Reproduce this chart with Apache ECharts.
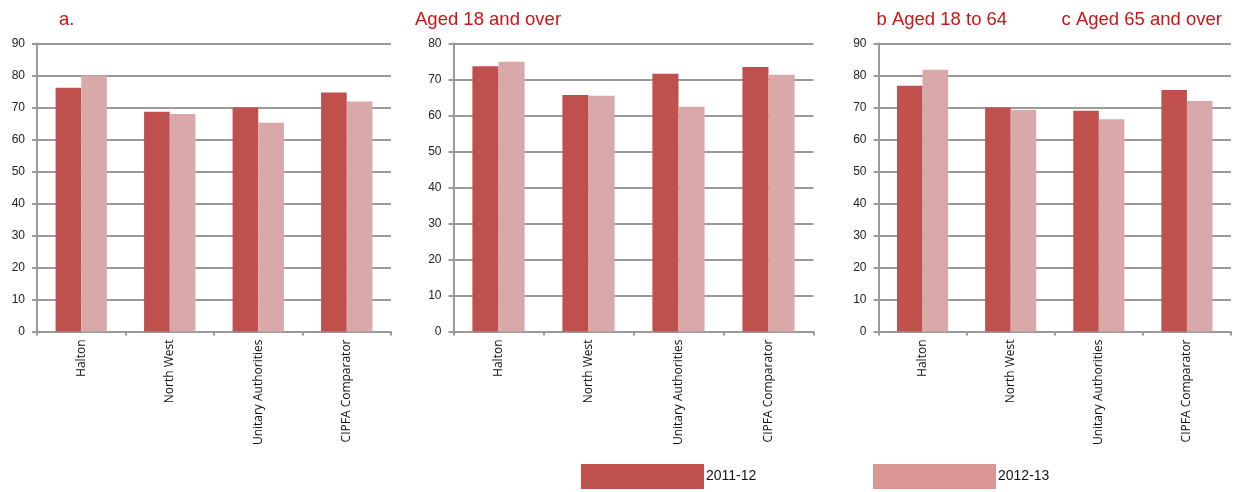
<!DOCTYPE html>
<html>
<head>
<meta charset="utf-8">
<script src="https://cdn.jsdelivr.net/npm/echarts@6/dist/echarts.min.js"></script>
<style>
html,body{margin:0;padding:0;background:#fff;}
#chart{width:1239px;height:492px;}
</style>
</head>
<body>
<div id="chart"></div>
<script>
const categories = ['Halton', 'North West', 'Unitary Authorities', 'CIPFA Comparator'];
const seriesNames = ['2011-12', '2012-13'];
const titles = ['a.', 'Aged 18 and over', 'b Aged 18 to 64', 'c Aged 65 and over'];
// panel a
const a2011 = [76.2, 68.7, 70.0, 74.7];
const a2012 = [80.0, 68.0, 65.2, 71.9];
// panel b (Aged 18 and over)
const b2011 = [73.7, 65.7, 71.6, 73.5];
const b2012 = [74.9, 65.5, 62.4, 71.3];
// panel c
const c2011 = [76.8, 70.0, 69.0, 75.5];
const c2012 = [81.8, 69.2, 66.3, 72.0];
const yMax = [90, 80, 90];

const darkColor = '#c0504d';
const lightColor = '#d9a9a9';
const legendLight = '#d99694';
const gridColor = '#9a9a9a';
const titleColor = '#cc1414';

const grids = [
  {left: 37, width: 354, top: 43.5, height: 288},
  {left: 453.5, width: 360, top: 43.5, height: 288},
  {left: 878.5, width: 352.5, top: 43.5, height: 288}
];
const panels = [[a2011, a2012], [b2011, b2012], [c2011, c2012]];

const xAxes = grids.map((g, i) => ({
  type: 'category', gridIndex: i, data: categories,
  axisLine: {lineStyle: {color: gridColor, width: 2}},
  axisTick: {show: true, length: 4, lineStyle: {color: gridColor, width: 2}},
  axisLabel: {rotate: 90, margin: 8, fontFamily: 'Open Sans', fontSize: 12, color: '#111'}
}));
const yAxes = grids.map((g, i) => ({
  type: 'value', gridIndex: i, min: 0, max: yMax[i], interval: 10,
  axisLine: {show: true, lineStyle: {color: gridColor, width: 2}},
  axisTick: {show: true, length: 5, lineStyle: {color: gridColor, width: 2}},
  splitLine: {show: true, lineStyle: {color: gridColor, width: 2}},
  axisLabel: {margin: 12, fontFamily: 'Liberation Sans', fontSize: 12, color: '#222'}
}));
const series = [];
panels.forEach((p, i) => {
  series.push({name: seriesNames[0], type: 'bar', xAxisIndex: i, yAxisIndex: i, data: p[0],
    barGap: '0%', barCategoryGap: '42%', itemStyle: {color: darkColor}});
  series.push({name: seriesNames[1], type: 'bar', xAxisIndex: i, yAxisIndex: i, data: p[1],
    barGap: '0%', barCategoryGap: '42%', itemStyle: {color: lightColor}});
});

const titleStyle = {fontFamily: 'Liberation Sans', fontSize: 18.5, fontWeight: 'normal', color: titleColor};
const titlePos = [59, 415, 876.5, 1061.5];
const title = titles.map((t, i) => ({text: t, left: titlePos[i], top: 10.5, padding: 0, textStyle: titleStyle}));

const legendText = {fontFamily: 'Liberation Sans', fontSize: 14, color: '#111'};
const legend = [
  {data: [{name: seriesNames[0], itemStyle: {color: darkColor}}], left: 581, top: 464, padding: 0,
    icon: 'rect', itemWidth: 123, itemHeight: 25, selectedMode: false,
    textStyle: Object.assign({padding: [6, 0, 0, -3]}, legendText)},
  {data: [{name: seriesNames[1], itemStyle: {color: legendLight}}], left: 873, top: 464, padding: 0,
    icon: 'rect', itemWidth: 123, itemHeight: 25, selectedMode: false,
    textStyle: Object.assign({padding: [0, 0, 0, -3]}, legendText)}
];

const chart = echarts.init(document.getElementById('chart'), null, {renderer: 'canvas'});
chart.setOption({
  backgroundColor: '#fff',
  animation: false,
  title: title,
  legend: legend,
  grid: grids,
  xAxis: xAxes,
  yAxis: yAxes,
  series: series
});
</script>
</body>
</html>
